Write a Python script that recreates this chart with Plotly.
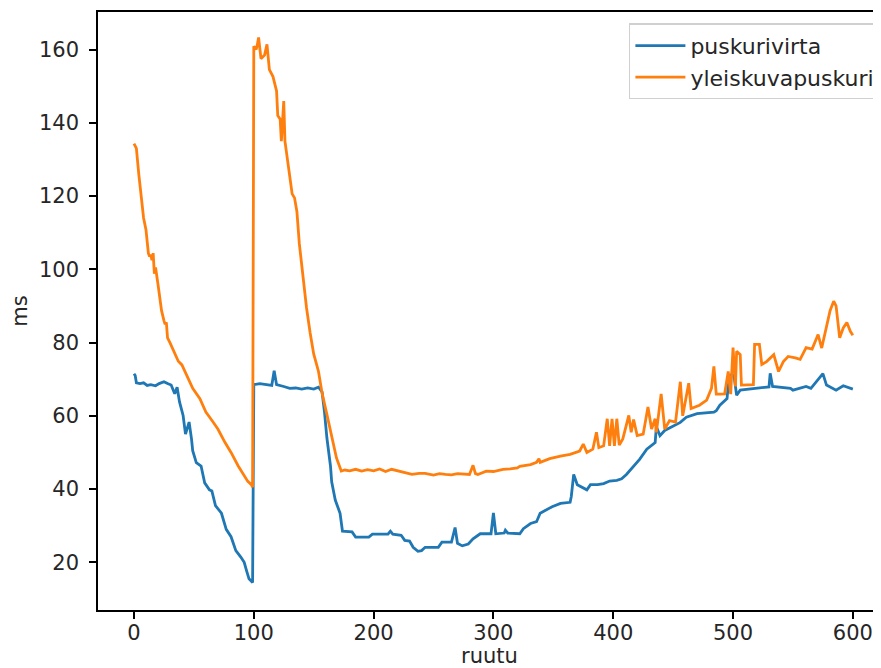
import plotly.graph_objects as go

# puskurivirta (blue) – frame numbers and values (ms)
virta_frames = [0, 1, 2, 5, 8, 11, 14, 18, 21, 25, 28, 31, 34, 36, 38, 41, 43, 44, 46, 48, 49, 52, 56, 59, 63, 65, 68, 73, 77, 81, 85, 89, 92, 94, 96, 99,
                100, 105, 110, 115, 117, 119, 125, 130, 135, 140, 145, 150, 154, 157, 159, 161, 164, 165, 168, 170, 172, 174, 182, 185, 196, 199,
                212, 214, 216, 223, 226, 230, 233, 237, 240, 243, 254, 257, 265, 268, 270, 274, 279, 283, 289, 298, 300, 302, 309, 310, 312,
                322, 325, 331, 336, 339, 344, 349, 356, 364, 365, 367, 370, 378, 381, 387, 392, 397, 403, 407, 411, 417, 422, 428, 432, 435,
                436, 439, 443, 450, 456, 461, 470, 484, 486, 489, 495, 496, 499, 501, 503, 506, 517, 530, 531, 533, 548, 550, 561, 565, 575,
                578, 586, 592, 600]
virta_values = [71.5, 71.0, 69.0, 68.8, 69.0, 68.3, 68.5, 68.2, 68.8, 69.3, 68.8, 68.4, 66.0, 67.8, 63.8, 60.1, 55.0, 56.0, 58.3, 53.7, 50.5, 47.2, 46.3, 41.7, 39.8, 39.5, 35.5, 33.4, 29.0, 27.0, 23.2, 21.5, 20.0, 17.7, 15.5, 14.5,
                68.5, 68.8, 68.5, 68.3, 72.3, 68.5, 68.0, 67.5, 67.6, 67.3, 67.6, 67.3, 67.8, 66.5, 61.0, 54.0, 46.3, 42.0, 37.0, 35.2, 33.4, 28.5, 28.3, 26.9, 26.9, 27.7,
                27.7, 28.5, 27.7, 27.4, 26.0, 25.8, 24.1, 23.0, 23.2, 24.1, 24.1, 25.5, 25.5, 29.5, 25.2, 24.5, 25.0, 26.4, 27.8, 27.8, 33.5, 27.8, 28.0, 28.8, 28.0,
                27.8, 29.2, 30.6, 31.1, 33.4, 34.3, 35.2, 36.1, 36.4, 38.0, 44.0, 41.2, 39.8, 41.2, 41.2, 41.5, 42.2, 42.4, 42.8, 44.0, 46.3, 48.1, 50.9, 51.8, 52.7,
                57.0, 54.6, 56.0, 57.3, 58.2, 59.6, 60.6, 61.0, 61.4, 62.9, 64.7, 68.4, 71.5, 70.5, 65.6, 67.0, 67.5, 67.9, 71.6, 68.0, 67.5, 67.0, 68.0, 67.5, 71.5,
                68.4, 67.0, 68.2, 67.3]

# yleiskuvapuskuri (orange)
yleis_frames = [0, 1, 2, 4, 6, 8, 10, 12, 13, 14, 15, 16, 17, 18, 20, 21, 23, 25, 26, 27, 28, 30, 33, 37, 40, 44, 49, 55, 60, 66, 70, 76, 81, 87, 91, 95, 98, 99,
                100, 102, 103, 104, 106, 109, 111, 113, 116, 119, 120, 122, 123, 125, 126, 128, 130, 132, 134, 136, 138, 141, 144, 147, 150, 154, 157,
                161, 166, 169, 172, 173, 176, 180, 185, 190, 195, 200, 205, 210, 215, 220, 225, 232, 238, 243, 250, 255, 260, 265, 270, 275, 280, 283,
                285, 287, 294, 300, 308, 314, 320, 322, 331, 336, 338, 339, 347, 356, 364, 372, 375, 378, 383, 386, 388, 392, 395, 397, 399, 401, 403,
                405, 408, 413, 415, 417, 420, 425, 429, 432, 435, 436, 440, 443, 447, 452, 456, 458, 463, 465, 472, 478, 482, 484, 486, 489, 493, 496,
                498, 500, 502, 503, 506, 507, 513, 517, 518, 522, 524, 528, 534, 538, 542, 546, 552, 556, 561, 566, 571, 574, 581, 584, 586, 589, 592,
                595, 598, 600]
yleis_values = [134.3, 133.5, 133.0, 126.0, 119.1, 114.0, 110.8, 104.4, 103.5, 104.0, 102.5, 104.4, 98.8, 100.5, 96.0, 93.3, 88.7, 86.0, 85.0, 85.5, 81.3, 80.0, 77.6, 74.9, 73.9, 71.2, 67.5, 64.7, 61.0, 58.3, 56.4, 52.7, 50.0, 46.3, 44.0, 42.1, 41.2, 40.5,
                160.9, 160.0, 161.4, 163.3, 157.5, 158.5, 161.4, 154.5, 152.6, 148.7, 142.0, 141.0, 135.0, 145.9, 135.0, 130.3, 126.4, 120.6, 119.5, 115.7, 107.0, 97.3, 89.5, 82.7, 76.9, 72.1, 66.2,
                60.4, 53.0, 48.5, 45.8, 44.9, 45.2, 45.0, 45.4, 44.9, 45.3, 45.0, 45.5, 44.8, 45.4, 45.0, 44.5, 44.0, 44.3, 44.3, 43.8, 44.2, 44.0, 43.9, 44.2, 44.0, 44.0, 46.5,
                44.2, 44.0, 44.9, 44.8, 45.4, 45.5, 45.8, 46.2, 46.7, 47.3, 48.3, 47.3, 48.3, 49.0, 49.5, 50.4, 52.3, 50.0, 50.9, 55.5, 51.3, 51.8, 59.2, 51.8, 59.2, 51.8, 59.2,
                52.0, 53.7, 60.1, 55.5, 59.0, 54.6, 55.0, 62.4, 56.4, 59.2, 55.5, 66.0, 56.4, 58.7, 58.3, 69.3, 60.0, 68.9, 62.0, 62.9, 64.3, 67.5, 73.5, 65.9, 65.9, 66.0, 72.1,
                65.9, 78.6, 68.0, 77.6, 76.7, 68.4, 68.4, 68.5, 79.5, 79.5, 74.0, 74.8, 76.7, 72.1, 74.8, 76.2, 75.8, 75.4, 78.6, 78.2, 82.2, 78.5, 88.7, 91.3, 90.0, 81.3, 84.0,
                85.5, 83.0, 82.0]

x_ticks = [0, 100, 200, 300, 400, 500, 600]
y_ticks = [20, 40, 60, 80, 100, 120, 140, 160]

FONT = "DejaVu Sans"
FS = 21
TXT = "#262626"

fig = go.Figure()
fig.add_trace(go.Scatter(x=virta_frames, y=virta_values, mode="lines", name="puskurivirta",
                         line=dict(color="#1f77b4", width=2.8)))
fig.add_trace(go.Scatter(x=yleis_frames, y=yleis_values, mode="lines", name="yleiskuvapuskuri",
                         line=dict(color="#ff7f0e", width=2.8)))

# the page body adds an 8px margin, so the figure is 8px smaller and margins shifted
fig.update_layout(
    width=873, height=660,
    margin=dict(l=90, r=0, t=4, b=58, autoexpand=False),
    paper_bgcolor="white", plot_bgcolor="white",
    font=dict(family=FONT, size=FS, color=TXT),
    showlegend=True,
    legend=dict(x=1.0, y=0.981, xanchor="right", yanchor="top",
                bgcolor="rgba(255,255,255,0.8)", bordercolor="#d0d0d0", borderwidth=1.4,
                font=dict(family=FONT, size=22, color=TXT),
                tracegroupgap=0, itemwidth=50),
    xaxis=dict(range=[-30.04, 623.5], tickvals=x_ticks, ticktext=[str(v) for v in x_ticks],
               automargin=False,
               showgrid=False, zeroline=False, showline=True, mirror=True, linecolor="black", linewidth=1.5,
               ticks="outside", ticklen=7, tickwidth=1.5, tickcolor="black", ticklabelstandoff=-4,
               tickfont=dict(family=FONT, size=FS, color=TXT),
               title=dict(text="ruutu", font=dict(family=FONT, size=FS, color=TXT), standoff=7)),
    yaxis=dict(range=[6.99, 170.24], tickvals=y_ticks, ticktext=[str(v) for v in y_ticks],
               automargin=False,
               showgrid=False, zeroline=False, showline=True, mirror=False, linecolor="black", linewidth=1.5,
               ticks="outside", ticklen=7, tickwidth=1.5, tickcolor="black", ticklabelstandoff=6,
               tickfont=dict(family=FONT, size=FS, color=TXT),
               title=dict(text="ms", font=dict(family=FONT, size=FS, color=TXT), standoff=10)),
)

fig.write_html("out.html")
